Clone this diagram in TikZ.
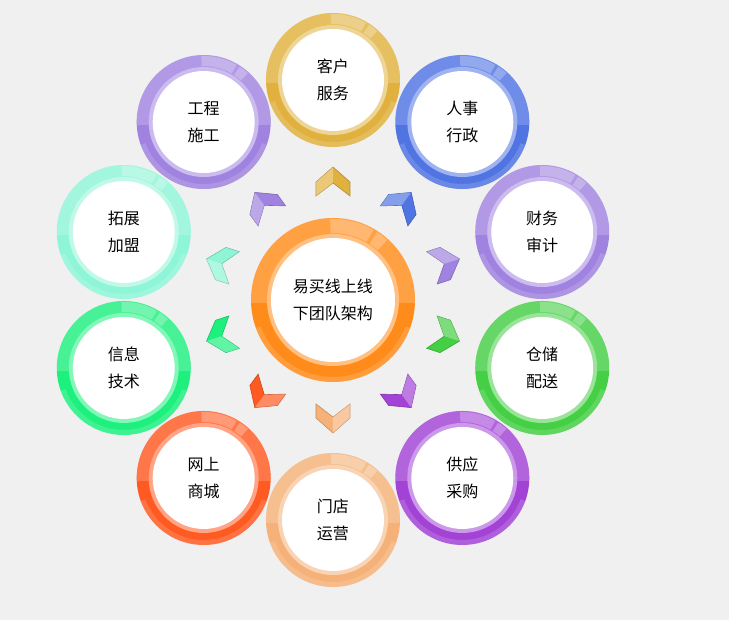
\documentclass[tikz,border=0pt]{standalone}
\usepackage{fontspec}
\newfontfamily\cjk{Noto Sans CJK SC}
\usetikzlibrary{positioning}

\definecolor{bg}{HTML}{F0F0F0}
\definecolor{hub}{HTML}{FF8C1A}
\definecolor{gold}{HTML}{E1B13F}
\definecolor{royal}{HTML}{5075E3}
\definecolor{lavender}{HTML}{A083E0}
\definecolor{grass}{HTML}{45CF45}
\definecolor{violet}{HTML}{A243D6}
\definecolor{peach}{HTML}{F5B177}
\definecolor{tomato}{HTML}{FF5A22}
\definecolor{spring}{HTML}{1EF07E}
\definecolor{mint}{HTML}{8EF5D6}

\tikzset{
  dept/.style={circle, fill=white, minimum size=102, inner sep=0pt, align=center,
    font=\cjk\fontsize{16}{27}\selectfont},
  chevron/.style={fill=#1, draw=#1!80!black, line width=0.6pt, line join=miter},
}

% glossy ring: centre, outer radius, inner radius, colour
\newcommand\glassring[4]{%
  \begin{scope}[shift={(#1)}]
    \fill[#4] (0,0) circle (#2);
    \begin{scope}
      \clip (0,0) circle (#2);
      \fill[white, opacity=0.18] (-#2,-3) rectangle (#2,#2);
    \end{scope}
    % glow on the lower rim
    \fill[white, opacity=0.15] (200:#2) arc (200:340:#2) -- (340:#2-5) arc (340:200:#2-5) -- cycle;
    % highlight top right
    \fill[white, opacity=0.25] (48:#2-1) arc (48:57:#2-1) -- (57:#3+5) arc (57:48:#3+5) -- cycle;
    \fill[white, opacity=0.25] (60:#2-1) arc (60:92:#2-1) -- (92:#3+5) arc (92:60:#3+5) -- cycle;
    \fill[#4!55!white] (0,0) circle (#3+4);
  \end{scope}}

\begin{document}
\begin{tikzpicture}[x=1pt, y=1pt]
  % background, centre of the hub is the origin
  \fill[bg] (-333,-320) rectangle (396,300);
  \useasboundingbox (-333,-320) rectangle (396,300);

  % hub
  \glassring{0,0}{82}{62}{hub}
  \node[dept, minimum size=124] (hub) at (0,0) {易买线上线\\下团队架构};

  % departments round the hub
  \foreach \a/\n/\col/\t in {90/kehu/gold/{客户\\服务}, 54/renshi/royal/{人事\\行政},
      18/caiwu/lavender/{财务\\审计}, -18/cangchu/grass/{仓储\\配送},
      -54/gongying/violet/{供应\\采购}, -90/mendian/peach/{门店\\运营},
      -126/wangshang/tomato/{网上\\商城}, -162/xinxi/spring/{信息\\技术},
      162/tuozhan/mint/{拓展\\加盟}, 126/gongcheng/lavender/{工程\\施工}} {
    \glassring{\a:220}{67}{51}{\col}
    \node[dept] (\n) at (\a:220) {\t};
    % chevron pointing out to the department
    \begin{scope}[rotate=\a-90]
      \filldraw[chevron=\col] (0,133) -- (17,118) -- (17,104) -- (0,117) -- (-17,104) -- (-17,118) -- cycle;
      \fill[white, opacity=0.3] (0,133) -- (0,117) -- (-17,104) -- (-17,118) -- cycle;
    \end{scope}
  }
\end{tikzpicture}
\end{document}
